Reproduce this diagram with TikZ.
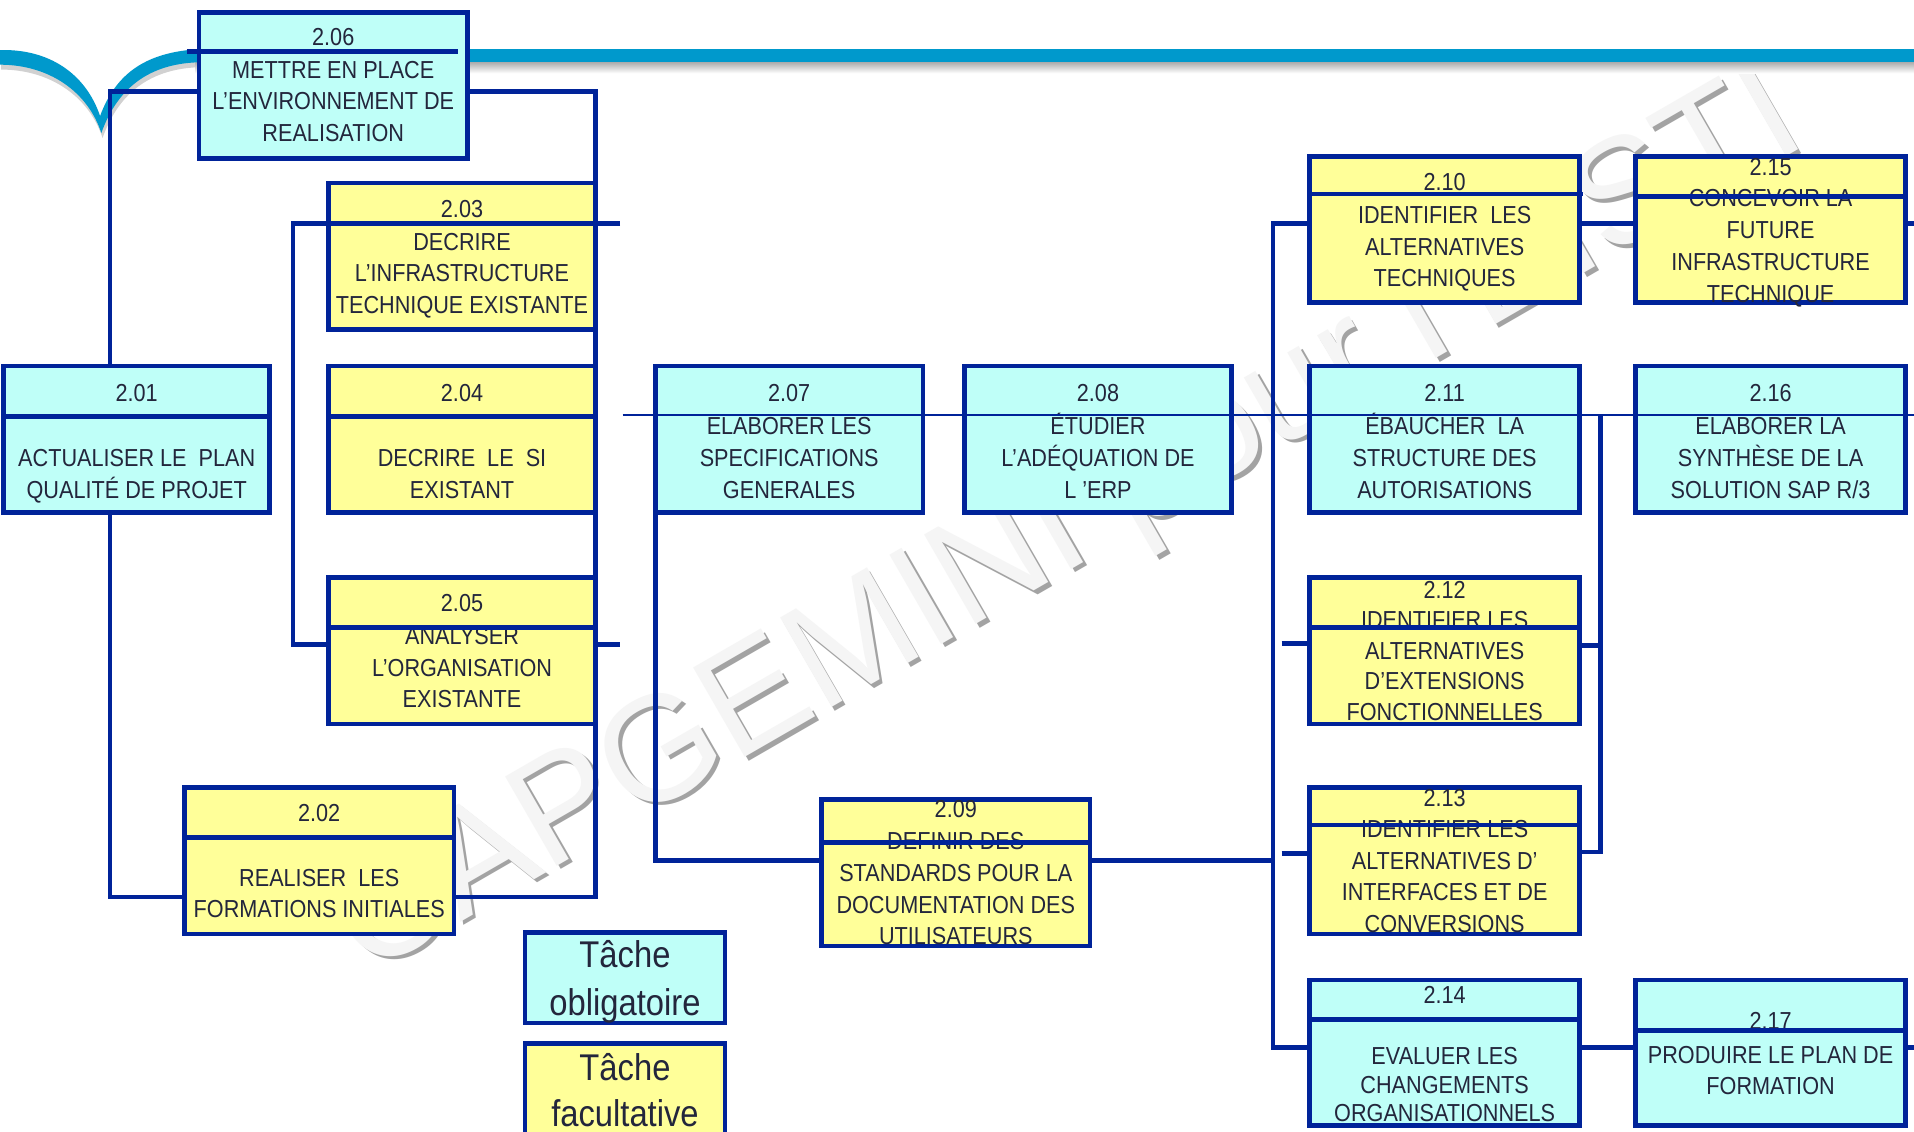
\documentclass[tikz,border=0pt]{standalone}
\usepackage{fontspec}
\setmainfont{Liberation Sans}
\newfontfamily\narrowsans{Liberation Sans}[FakeStretch=0.88]

\definecolor{boxline}{RGB}{0,35,153}
\definecolor{mandfill}{RGB}{191,255,248}
\definecolor{optfill}{RGB}{255,255,153}
\definecolor{ink}{RGB}{35,38,60}
\definecolor{band}{RGB}{0,153,204}

\pgfdeclarelayer{decor}
\pgfdeclarelayer{links}
\pgfsetlayers{decor,links,main}

\tikzset{
  taskbox/.style={rectangle, draw=boxline, line width=2.3pt, inner sep=0pt, outer sep=0pt},
  mandatory/.style={taskbox, fill=mandfill},
  optional/.style={taskbox, fill=optfill},
  conn/.style={draw=boxline, line width=2.3pt},
  divline/.style={draw=boxline, line width=2.3pt},
  thinline/.style={draw=boxline, line width=1.3pt},
  tasklabel/.style={font=\narrowsans\fontsize{12.3pt}{15.9pt}\selectfont, text=ink, inner sep=0pt},
  legendlabel/.style={font=\narrowsans\fontsize{18.6pt}{24pt}\selectfont, text=ink, inner sep=0pt},
  watermark/.style={font=\fontsize{75pt}{80pt}\selectfont, rotate=30, anchor=base west, inner sep=0pt},
}

% task box: name, style, x1, y1, x2, y2, number, centre line of the number
\newcommand{\tache}[8]{%
  \node[#2, minimum width={(#5-#3)*0.61035pt}, minimum height={(#6-#4)*0.61035pt}]
    (#1) at ({(#3+#5)/2},{(#4+#6)/2}) {};
  \node[tasklabel, anchor=base] (#1-num) at (#1.center |- 0,{#8+7}) {#7};
}
% body text: name, centre of first line, line step, lines
\newcommand{\corps}[4]{%
  \foreach \lineTxt [count=\k] in {#4}{%
    \node[tasklabel, anchor=base] (#1-l\k) at (#1.center |- 0,{#2+7+(\k-1)*#3}) {\lineTxt};
  }%
}
% header separator across a box
\newcommand{\divider}[2]{\draw[divline] (#1.west |- 0,#2) -- (#1.east |- 0,#2);}

\begin{document}
\begin{tikzpicture}[x=0.61035pt, y=-0.61035pt]
\useasboundingbox (0,0) rectangle (1568,927);

\begin{pgfonlayer}{decor}
\fill[white] (0,0) rectangle (1568,927);
% watermark
\node[watermark, text=black!36] (wm-shadow) at (303,803) {CAPGEMINI pour l’EISTI};
\node[watermark, text=black!4] (wm) at (300,800) {CAPGEMINI pour l’EISTI};
% header band with its swoosh
\fill[black!18] (1,45) .. controls (41,44) and (71,64) .. (83,99)
  .. controls (96,64) and (121,45) .. (171,44) -- (171,55)
  .. controls (126,54) and (98,74) .. (84,113)
  .. controls (73,79) and (41,57) .. (1,57) -- cycle;
\shade[top color=black!32, bottom color=white] (160,51) rectangle (1568,60);
\fill[band] (0,41) .. controls (40,40) and (70,60) .. (82,95)
  .. controls (95,60) and (120,41) .. (170,40) -- (170,51)
  .. controls (125,50) and (97,70) .. (83,109)
  .. controls (72,75) and (40,53) .. (0,53) -- cycle;
\fill[band] (160,40) rectangle (1568,51);
\end{pgfonlayer}

% junctions
\coordinate (jA) at (90,75);   \coordinate (jB) at (90,735);
\coordinate (jC) at (488,75);  \coordinate (jD) at (488,735);
\coordinate (jE) at (240,183); \coordinate (jF) at (240,528);
\coordinate (jG) at (508,183); \coordinate (jH) at (508,528);
\coordinate (jI) at (510,340); \coordinate (jJ) at (1568,340);
\coordinate (jK) at (537,705);
\coordinate (jL) at (1043,183); \coordinate (jM) at (1043,858); \coordinate (jN) at (1043,705);
\coordinate (jO) at (1050,527); \coordinate (jP) at (1050,699);
\coordinate (jQ) at (1311,340); \coordinate (jR) at (1311,529); \coordinate (jS) at (1311,698);
\coordinate (jT) at (1568,183); \coordinate (jU) at (1568,858);

% task boxes
\tache{b06}{mandatory}{163}{10}{383}{130}{2.06}{30}
\corps{b06}{57}{26}{METTRE EN PLACE, L’ENVIRONNEMENT DE, REALISATION}
\draw[divline] (b06.west |- 0,42) ++(-10,0) -- ++(222,0);

\tache{b03}{optional}{269}{150}{488}{270}{2.03}{171}
\corps{b03}{198}{26}{DECRIRE, L’INFRASTRUCTURE, TECHNIQUE EXISTANTE}
\divider{b03}{183}

\tache{b04}{optional}{269}{300}{488}{420}{2.04}{322}
\corps{b04}{375}{26}{DECRIRE\ \ LE\ \ SI, EXISTANT}
\divider{b04}{341}

\tache{b05}{optional}{269}{473}{488}{593}{2.05}{494}
\corps{b05}{521}{26}{ANALYSER, L’ORGANISATION, EXISTANTE}
\divider{b05}{514}

\tache{b01}{mandatory}{3}{300}{221}{420}{2.01}{322}
\corps{b01}{375}{26}{ACTUALISER LE\ \ PLAN, QUALITÉ DE PROJET}
\divider{b01}{341}

\tache{b02}{optional}{151}{645}{372}{765}{2.02}{666}
\corps{b02}{719}{26}{REALISER\ \ LES, FORMATIONS INITIALES}
\divider{b02}{686}

\tache{b07}{mandatory}{537}{300}{756}{420}{2.07}{322}
\corps{b07}{349}{26}{ELABORER LES, SPECIFICATIONS, GENERALES}

\tache{b08}{mandatory}{790}{300}{1009}{420}{2.08}{322}
\corps{b08}{349}{26}{ÉTUDIER, L’ADÉQUATION DE, L ’ERP}

\tache{b09}{optional}{673}{655}{893}{775}{2.09}{663}
\corps{b09}{689}{26}{DEFINIR DES, STANDARDS POUR LA, DOCUMENTATION DES, UTILISATEURS}
\divider{b09}{690}

\tache{b10}{optional}{1073}{128}{1294}{248}{2.10}{149}
\corps{b10}{176}{26}{IDENTIFIER\ \ LES, ALTERNATIVES, TECHNIQUES}
\draw[divline] (b10.west |- 0,159) -- ++(224,0);

\tache{b15}{optional}{1340}{128}{1561}{248}{2.15}{137}
\corps{b15}{162}{26.3}{CONCEVOIR LA, FUTURE, INFRASTRUCTURE, TECHNIQUE}
\divider{b15}{161}

\tache{b11}{mandatory}{1073}{300}{1294}{420}{2.11}{322}
\corps{b11}{349}{26}{ÉBAUCHER\ \ LA, STRUCTURE DES, AUTORISATIONS}

\tache{b16}{mandatory}{1340}{300}{1561}{420}{2.16}{322}
\corps{b16}{349}{26}{ELABORER LA, SYNTHÈSE DE LA, SOLUTION SAP R/3}

\tache{b12}{optional}{1073}{473}{1294}{593}{2.12}{483}
\corps{b12}{508}{25}{IDENTIFIER LES, ALTERNATIVES, D’EXTENSIONS, FONCTIONNELLES}
\divider{b12}{514}

\tache{b13}{optional}{1073}{645}{1294}{765}{2.13}{654}
\corps{b13}{679}{26}{IDENTIFIER LES, ALTERNATIVES D’, INTERFACES ET DE, CONVERSIONS}
\divider{b13}{676}

\tache{b14}{mandatory}{1073}{803}{1294}{922}{2.14}{815}
\corps{b14}{865}{23.5}{EVALUER LES, CHANGEMENTS, ORGANISATIONNELS}
\divider{b14}{835}

\tache{b17}{mandatory}{1340}{803}{1561}{922}{2.17}{836}
\corps{b17}{864}{26}{PRODUIRE LE PLAN DE, FORMATION}
\divider{b17}{844}

% shared header line of the analysis row
\draw[thinline] (jI) -- (jJ);

% legend
\node[mandatory, minimum width={164*0.61035pt}, minimum height={74*0.61035pt}] (leg1) at (512,801) {};
\node[legendlabel, anchor=base] (leg1-a) at (leg1.center |- 0,793) {Tâche};
\node[legendlabel, anchor=base] (leg1-b) at (leg1.center |- 0,832) {obligatoire};
\node[optional, minimum width={164*0.61035pt}, minimum height={85*0.61035pt}] (leg2) at (512,897.5) {};
\node[legendlabel, anchor=base] (leg2-a) at (leg2.center |- 0,885) {Tâche};
\node[legendlabel, anchor=base] (leg2-b) at (leg2.center |- 0,923) {facultative};

% connectors, under the boxes
\begin{pgfonlayer}{links}
\draw[conn] (b06.west |- jA) -- (jA) -- (jB) -- (b02.west |- jB);
\draw[conn] (b06.east |- jC) -- (jC) -- (jD) -- (b02.east |- jD);
\draw[conn] (jG) -- (jE) -- (jF) -- (jH);
\draw[conn] (b07.south west) -- (jK) -- (b09.west |- jK);
\draw[conn] (b09.east |- jN) -- (jN);
\draw[conn] (b10.west |- jL) -- (jL) -- (jM) -- (b14.west |- jM);
\draw[conn] (jO) -- (b12.west |- jO);
\draw[conn] (jP) -- (b13.west |- jP);
\draw[conn] (b10.east |- jL) -- (b15.west |- jL);
\draw[conn] (b15.east |- jT) -- (jT);
\draw[conn] (b12.east |- jR) -- (jR);
\draw[conn] (b13.east |- jS) -- (jS) -- (jQ);
\draw[conn] (b14.east |- jM) -- (b17.west |- jM);
\draw[conn] (b17.east |- jU) -- (jU);
\end{pgfonlayer}
\end{tikzpicture}
\end{document}
